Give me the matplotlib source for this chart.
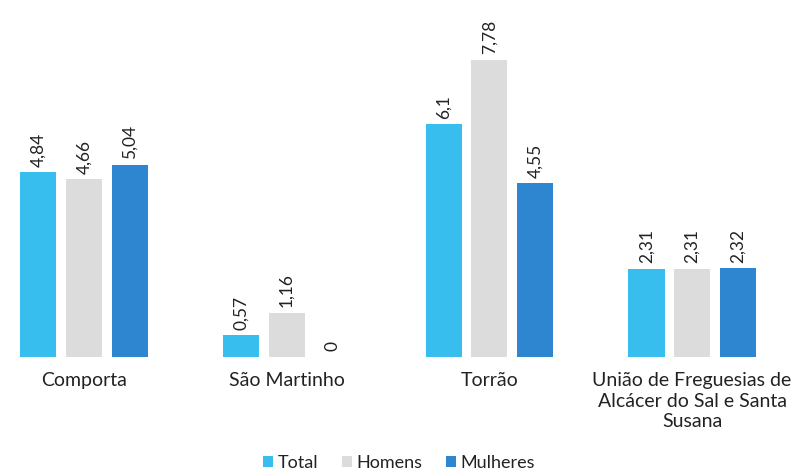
import numpy as np
import matplotlib.pyplot as plt

plt.rcParams['font.family'] = ['Lato', 'DejaVu Sans']

categorias = ['Comporta', 'São Martinho', 'Torrão',
              'União de Freguesias de\nAlcácer do Sal e Santa\nSusana']
series = ['Total', 'Homens', 'Mulheres']
total = [4.84, 0.57, 6.1, 2.31]
homens = [4.66, 1.16, 7.78, 2.31]
mulheres = [5.04, 0, 4.55, 2.32]
cores = ['#38BDEF', '#DCDCDC', '#2E86D0']

fig = plt.figure(figsize=(7.98, 4.75), dpi=100)
ax = fig.add_axes([0, 0.2484, 1, 0.7234])

x = np.arange(len(categorias))
w = 0.178
off = 0.225
for k, (vals, nome) in enumerate(zip([total, homens, mulheres], series)):
    pos = x + (k - 1) * off
    ax.bar(pos, vals, width=w, color=cores[k], label=nome)
    for px, v in zip(pos, vals):
        txt = ('%g' % v).replace('.', ',')
        ax.annotate(txt, (px, v), xytext=(0, 4), textcoords='offset points',
                    rotation=90, ha='center', va='bottom', fontsize=12.5,
                    color='#222222')

ax.set_ylim(0, 9)
ax.set_xlim(-84 / 202.7, (798 - 84) / 202.7)

for s in ax.spines.values():
    s.set_visible(False)
ax.set_yticks([])
ax.set_xticks(x)
ax.set_xticklabels(categorias, fontsize=14, color='#222222', linespacing=1.25,
                   va='top')
ax.tick_params(axis='x', length=0, pad=11)

fig.legend(loc='lower center', bbox_to_anchor=(0.5, -0.025), ncol=3, frameon=False,
           fontsize=13, handlelength=0.55, handleheight=0.55, handletextpad=0.25,
           columnspacing=1.3, labelcolor='#222222')

fig.savefig('out.png', dpi=100)
